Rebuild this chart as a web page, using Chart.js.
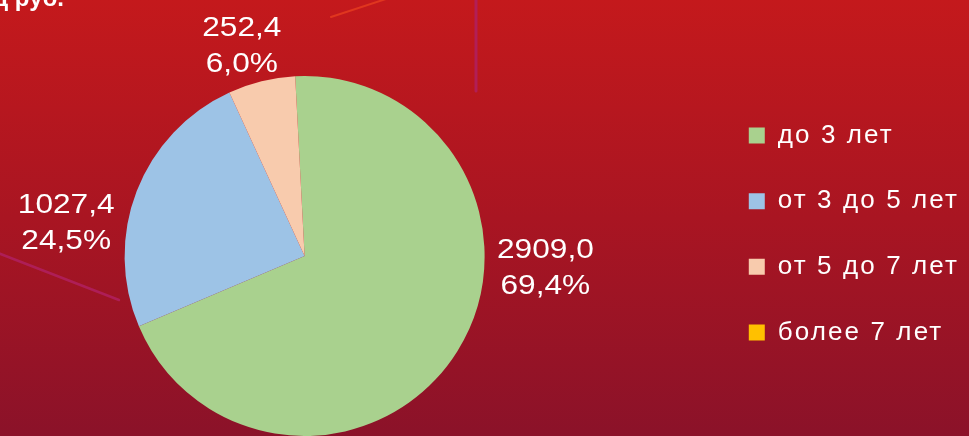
<!DOCTYPE html>
<html>
<head>
<meta charset="utf-8">
<script src="https://cdn.jsdelivr.net/npm/chart.js@4"></script>
<style>
  html, body { margin: 0; padding: 0; overflow: hidden; background: #a91522; }
  #wrap { width: 969px; height: 436px; position: relative; overflow: hidden; }
  /* the canvas starts left of the window so the pie can sit at x=305 with the legend on the right */
  #inner { position: absolute; left: -100px; top: 0; width: 1069px; height: 436px; }
</style>
</head>
<body>
<div id="wrap"><div id="inner"><canvas id="pie"></canvas></div></div>
<script>
const categories = ["до 3 лет", "от 3 до 5 лет", "от 5 до 7 лет", "более 7 лет"];
const amounts = [2909.0, 1027.4, 252.4, 0];
const sliceColors = ["#a9d18e", "#9dc3e6", "#f8cbad", "#ffc000"];

// where the value labels sit: angle clockwise from 12 o'clock, gap past the rim
const labelAngles = [92.4, 278.4, 343.5, 0];
const labelGaps = [61, 61, 41, 0];

const SHIFT = 100;        // canvas offset to the left of the window
const PIE_RIGHT = 810;    // right edge of the chart area, canvas px
const LEGEND_SPACING = "2.1px";

const fmt = (v) => v.toFixed(1).replace(".", ",");

const backdrop = {
    id: "backdrop",
    beforeLayout(chart) {
        // measure the legend with the same letter spacing it is drawn with
        chart.ctx.letterSpacing = LEGEND_SPACING;
    },
    afterLayout(chart) {
        chart.ctx.letterSpacing = "0px";
    },
    beforeDraw(chart) {
        const ctx = chart.ctx;
        const w = chart.width, h = chart.height;
        ctx.save();
        ctx.letterSpacing = "0px";
        const g = ctx.createLinearGradient(0, 0, 0, h);
        g.addColorStop(0, "#c4191c");
        g.addColorStop(0.5, "#a91522");
        g.addColorStop(1, "#8b1229");
        ctx.fillStyle = g;
        ctx.fillRect(0, 0, w, h);

        ctx.translate(SHIFT, 0);
        ctx.lineCap = "round";
        ctx.strokeStyle = "#e0361f";
        ctx.lineWidth = 2;
        ctx.beginPath(); ctx.moveTo(331, 17); ctx.lineTo(392, -3); ctx.stroke();

        ctx.strokeStyle = "rgba(176,32,96,0.85)";
        ctx.lineWidth = 3;
        ctx.beginPath(); ctx.moveTo(476, 0); ctx.lineTo(476, 91); ctx.stroke();

        ctx.lineWidth = 2.5;
        ctx.beginPath(); ctx.moveTo(-2, 253); ctx.lineTo(119, 300); ctx.stroke();

        // slide title, mostly cut off above the frame
        ctx.fillStyle = "#ffffff";
        ctx.font = "bold 24px 'Liberation Sans', Arial, sans-serif";
        ctx.textAlign = "right";
        ctx.textBaseline = "alphabetic";
        ctx.fillText("млрд руб.", 64, 6);
        ctx.restore();
        // legend text in the slide is spaced out
        ctx.letterSpacing = LEGEND_SPACING;
    },
    beforeDatasetsDraw(chart) {
        chart.ctx.letterSpacing = "0px";
    }
};

const valueLabels = {
    id: "valueLabels",
    afterDatasetsDraw(chart) {
        const ctx = chart.ctx;
        const meta = chart.getDatasetMeta(0);
        const vals = chart.data.datasets[0].data;
        const total = vals.reduce((a, b) => a + b, 0);
        ctx.save();
        ctx.letterSpacing = "0px";
        ctx.fillStyle = "#ffffff";
        ctx.font = "28px 'Liberation Sans', Arial, sans-serif";
        ctx.textAlign = "center";
        ctx.textBaseline = "alphabetic";
        meta.data.forEach((arc, i) => {
            if (!vals[i]) return;
            const p = arc.getProps(["x", "y", "outerRadius"], true);
            const a = labelAngles[i] * Math.PI / 180;
            const d = p.outerRadius + labelGaps[i];
            const lx = p.x + d * Math.sin(a);
            const ly = p.y - d * Math.cos(a);
            const lines = [fmt(vals[i]), fmt(vals[i] / total * 100) + "%"];
            lines.forEach((t, k) => {
                ctx.save();
                ctx.translate(lx, ly - 8 + k * 36);
                ctx.scale(1.13, 1);
                ctx.fillText(t, 0, 0);
                ctx.restore();
            });
        });
        ctx.restore();
    }
};

const chart = new Chart(document.getElementById("pie"), {
    type: "pie",
    plugins: [backdrop, valueLabels],
    data: {
        labels: categories,
        datasets: [{
            data: amounts,
            backgroundColor: sliceColors,
            borderWidth: 0,
            hoverOffset: 0,
            hoverBorderWidth: 0
        }]
    },
    options: {
        responsive: true,
        maintainAspectRatio: false,
        animation: false,
        rotation: -3,
        layout: { padding: { top: 76, bottom: 0, left: 0, right: 0 } },
        plugins: {
            tooltip: { enabled: false },
            legend: {
                position: "right",
                align: "start",
                title: { display: true, text: "", font: { size: 1, lineHeight: 1 }, padding: { top: 6, bottom: 0 } },
                labels: {
                    color: "#ffffff",
                    boxWidth: 16,
                    boxHeight: 16,
                    padding: 39.6,
                    font: { family: "'Liberation Sans', Arial, sans-serif", size: 26 }
                }
            }
        }
    }
});

// leave exactly enough room on the right so the chart area ends at PIE_RIGHT
chart.options.layout.padding.right = Math.max(chart.width - PIE_RIGHT - chart.legend.width, 0);
chart.update();
</script>
</body>
</html>
